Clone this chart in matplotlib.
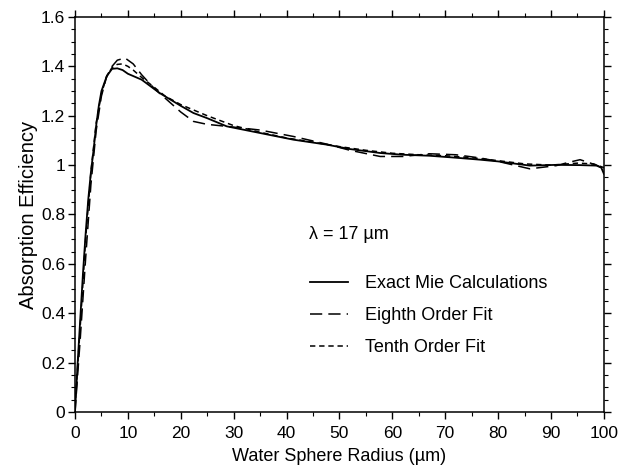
import numpy as np
import matplotlib.pyplot as plt
from matplotlib.ticker import MultipleLocator, FuncFormatter

plt.rcParams['font.family'] = ['Liberation Sans', 'DejaVu Sans']

# Exact Mie calculation
exact_r = [0, 0.5, 1, 1.5, 2, 2.5, 3, 3.5, 4, 4.5, 5, 6, 7, 8, 9, 10, 12.6, 16, 17, 20,
           22.4, 25, 28.7, 35, 41.3, 47.6, 52, 57.7, 62, 67, 72, 76.6, 80, 86, 91,
           95.5, 98.6, 99.5, 100]
exact_q = [0, 0.2, 0.38, 0.56, 0.72, 0.86, 0.97, 1.06, 1.16, 1.24, 1.30, 1.36, 1.39,
           1.392, 1.385, 1.37, 1.346, 1.292, 1.279, 1.24, 1.211, 1.19, 1.157, 1.13,
           1.103, 1.083, 1.065, 1.049, 1.042, 1.038, 1.03, 1.022, 1.015, 0.998, 1.001,
           1.0, 0.998, 0.99, 0.965]

# Eighth order fit
eighth_r = [0, 1, 2, 3, 4, 5, 6, 7, 8, 9.45, 11, 12.6, 15, 17, 20, 22.4, 25, 28.7, 35,
            41.3, 47.6, 52, 57.7, 62, 67, 72, 76.6, 80, 86, 91, 93.5, 95.5, 98.6, 100]
eighth_q = [0.0, 0.3, 0.62, 0.92, 1.14, 1.28, 1.36, 1.40, 1.425, 1.434, 1.41, 1.366,
            1.31, 1.272, 1.215, 1.177, 1.165, 1.157, 1.142, 1.116, 1.085, 1.06, 1.035,
            1.035, 1.046, 1.042, 1.029, 1.015, 0.985, 0.998, 1.012, 1.022, 1.0, 0.985]

# Tenth order fit
tenth_r = [0, 1, 2, 3, 4, 5, 6, 7, 8, 9, 10, 11, 12.6, 15, 17, 20, 25, 30, 35, 40, 45,
           50, 55, 60, 65, 70, 75, 80, 85, 90, 95, 98, 100]
tenth_q = [0.02, 0.35, 0.7, 0.97, 1.17, 1.29, 1.36, 1.395, 1.408, 1.41, 1.40, 1.385,
           1.355, 1.315, 1.28, 1.245, 1.2, 1.16, 1.133, 1.11, 1.093, 1.075, 1.06,
           1.048, 1.042, 1.038, 1.03, 1.018, 1.005, 1.0, 1.008, 1.005, 0.99]


def main():
    fig = plt.figure(figsize=(6.33, 4.69), dpi=100)
    ax = fig.add_axes([0.1185, 0.1215, 0.8355, 0.8423])

    ax.plot(exact_r, exact_q, color='black', lw=1.3, label='Exact Mie Calculations')
    ax.plot(eighth_r, eighth_q, color='black', lw=1.1, dashes=(8, 4),
            label='Eighth Order Fit')
    ax.plot(tenth_r, tenth_q, color='black', lw=1.1, dashes=(3.5, 2.5),
            label='Tenth Order Fit')

    ax.set_xlim(0, 100)
    ax.set_ylim(0, 1.6)
    ax.xaxis.set_major_locator(MultipleLocator(10))
    ax.xaxis.set_minor_locator(MultipleLocator(5))
    ax.yaxis.set_major_locator(MultipleLocator(0.2))
    ax.yaxis.set_minor_locator(MultipleLocator(0.05))
    ax.yaxis.set_major_formatter(FuncFormatter(lambda v, p: f"{v:g}"))
    ax.tick_params(which='both', top=True, right=True, direction='out',
                   labelsize=12.5, color='black', pad=2)
    ax.tick_params(axis='x', which='major', pad=5)
    ax.tick_params(which='major', length=5, width=1)
    ax.tick_params(which='minor', length=3, width=0.8)
    for s in ax.spines.values():
        s.set_linewidth(1.1)

    ax.set_xlabel('Water Sphere Radius (\u00b5m)', fontsize=13, labelpad=5)
    ax.set_ylabel('Absorption Efficiency', fontsize=14.5, labelpad=2)

    ax.text(44.3, 0.72, '\u03bb = 17 \u00b5m', fontsize=13, va='center')
    ax.legend(loc='upper left', bbox_to_anchor=(0.414, 0.387), frameon=False,
              fontsize=13, handlelength=2.1, handletextpad=0.95, labelspacing=0.82)

    fig.savefig('out.png', dpi=100)


if __name__ == "__main__":
    main()
